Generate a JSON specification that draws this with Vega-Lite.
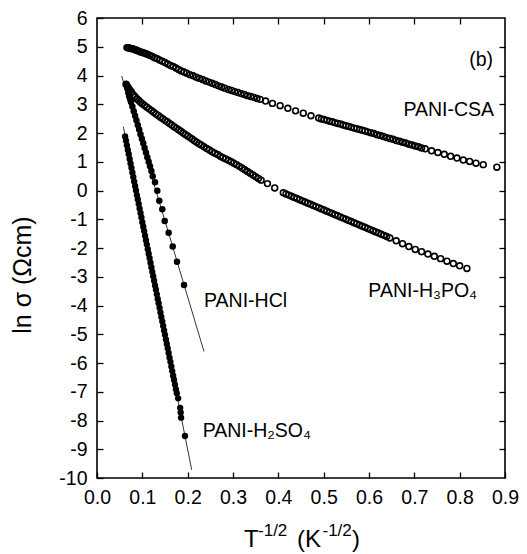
{
  "$schema": "https://vega.github.io/schema/vega-lite/v6.json",
  "width": 408,
  "height": 460,
  "autosize": {"type": "none"},
  "padding": {"left": 97, "top": 18, "right": 22, "bottom": 76},
  "background": "white",
  "config": {"view": {"stroke": "black", "strokeWidth": 1.6}},
  "datasets": {
    "fits": [
      {"s": "HCl", "x": 0.0545, "y": 3.98}, {"s": "HCl", "x": 0.236, "y": -5.6},
      {"s": "H2SO4", "x": 0.058, "y": 2.22}, {"s": "H2SO4", "x": 0.209, "y": -9.72}
    ],
    "csa": [
      {"x":0.066,"y":4.97},{"x":0.069,"y":4.965},{"x":0.072,"y":4.95},{"x":0.075,"y":4.94},{"x":0.078,"y":4.93},{"x":0.081,"y":4.91},{"x":0.084,"y":4.895},{"x":0.087,"y":4.88},{"x":0.090,"y":4.86},{"x":0.093,"y":4.84},{"x":0.096,"y":4.82},{"x":0.100,"y":4.80},{"x":0.104,"y":4.78},{"x":0.108,"y":4.76},{"x":0.112,"y":4.73},{"x":0.117,"y":4.70},{"x":0.122,"y":4.66},{"x":0.127,"y":4.62},{"x":0.132,"y":4.59},{"x":0.138,"y":4.54},{"x":0.144,"y":4.50},{"x":0.150,"y":4.45},{"x":0.156,"y":4.40},{"x":0.162,"y":4.35},{"x":0.168,"y":4.31},{"x":0.174,"y":4.26},{"x":0.180,"y":4.21},{"x":0.186,"y":4.16},{"x":0.192,"y":4.12},{"x":0.198,"y":4.08},{"x":0.205,"y":4.03},{"x":0.212,"y":3.99},{"x":0.219,"y":3.94},{"x":0.226,"y":3.90},{"x":0.233,"y":3.86},{"x":0.240,"y":3.81},{"x":0.247,"y":3.77},{"x":0.254,"y":3.73},{"x":0.261,"y":3.69},{"x":0.268,"y":3.64},{"x":0.275,"y":3.60},{"x":0.282,"y":3.56},{"x":0.290,"y":3.51},{"x":0.297,"y":3.48},{"x":0.304,"y":3.44},{"x":0.311,"y":3.41},{"x":0.318,"y":3.37},{"x":0.325,"y":3.34},{"x":0.332,"y":3.30},{"x":0.339,"y":3.27},{"x":0.346,"y":3.24},{"x":0.353,"y":3.20},{"x":0.360,"y":3.17},{"x":0.372,"y":3.11},{"x":0.387,"y":3.03},{"x":0.404,"y":2.95},{"x":0.421,"y":2.86},{"x":0.438,"y":2.77},{"x":0.455,"y":2.69},{"x":0.472,"y":2.60},{"x":0.489,"y":2.52},{"x":0.495,"y":2.49},{"x":0.501,"y":2.47},{"x":0.507,"y":2.44},{"x":0.513,"y":2.41},{"x":0.519,"y":2.39},{"x":0.525,"y":2.36},{"x":0.531,"y":2.33},{"x":0.537,"y":2.31},{"x":0.543,"y":2.28},{"x":0.549,"y":2.25},{"x":0.555,"y":2.23},{"x":0.561,"y":2.20},{"x":0.567,"y":2.17},{"x":0.573,"y":2.15},{"x":0.579,"y":2.12},{"x":0.585,"y":2.10},{"x":0.591,"y":2.07},{"x":0.597,"y":2.04},{"x":0.604,"y":2.01},{"x":0.611,"y":1.98},{"x":0.618,"y":1.94},{"x":0.625,"y":1.91},{"x":0.632,"y":1.88},{"x":0.639,"y":1.84},{"x":0.646,"y":1.81},{"x":0.653,"y":1.78},{"x":0.660,"y":1.74},{"x":0.667,"y":1.71},{"x":0.674,"y":1.68},{"x":0.681,"y":1.65},{"x":0.688,"y":1.61},{"x":0.695,"y":1.58},{"x":0.702,"y":1.55},{"x":0.709,"y":1.52},{"x":0.716,"y":1.48},{"x":0.724,"y":1.45},{"x":0.738,"y":1.38},{"x":0.752,"y":1.32},{"x":0.766,"y":1.26},{"x":0.780,"y":1.19},{"x":0.794,"y":1.13},{"x":0.808,"y":1.06},{"x":0.822,"y":1.01},{"x":0.836,"y":0.95},{"x":0.852,"y":0.90},{"x":0.882,"y":0.81}
    ],
    "h3": [
      {"x":0.064,"y":3.70},{"x":0.067,"y":3.62},{"x":0.070,"y":3.55},{"x":0.073,"y":3.48},{"x":0.076,"y":3.42},{"x":0.080,"y":3.33},{"x":0.084,"y":3.26},{"x":0.088,"y":3.19},{"x":0.092,"y":3.13},{"x":0.096,"y":3.07},{"x":0.100,"y":3.02},{"x":0.105,"y":2.96},{"x":0.110,"y":2.90},{"x":0.115,"y":2.84},{"x":0.120,"y":2.78},{"x":0.125,"y":2.72},{"x":0.130,"y":2.66},{"x":0.135,"y":2.61},{"x":0.140,"y":2.55},{"x":0.145,"y":2.50},{"x":0.150,"y":2.44},{"x":0.155,"y":2.39},{"x":0.160,"y":2.33},{"x":0.165,"y":2.28},{"x":0.170,"y":2.22},{"x":0.175,"y":2.17},{"x":0.180,"y":2.11},{"x":0.185,"y":2.06},{"x":0.190,"y":2.00},{"x":0.195,"y":1.95},{"x":0.200,"y":1.90},{"x":0.205,"y":1.84},{"x":0.210,"y":1.79},{"x":0.215,"y":1.73},{"x":0.220,"y":1.68},{"x":0.225,"y":1.63},{"x":0.230,"y":1.58},{"x":0.236,"y":1.52},{"x":0.242,"y":1.46},{"x":0.248,"y":1.41},{"x":0.254,"y":1.35},{"x":0.260,"y":1.30},{"x":0.266,"y":1.25},{"x":0.272,"y":1.19},{"x":0.278,"y":1.14},{"x":0.284,"y":1.10},{"x":0.290,"y":1.05},{"x":0.296,"y":1.00},{"x":0.302,"y":0.95},{"x":0.308,"y":0.90},{"x":0.314,"y":0.84},{"x":0.320,"y":0.78},{"x":0.326,"y":0.72},{"x":0.332,"y":0.66},{"x":0.338,"y":0.60},{"x":0.344,"y":0.54},{"x":0.350,"y":0.48},{"x":0.356,"y":0.42},{"x":0.362,"y":0.36},{"x":0.376,"y":0.24},{"x":0.392,"y":0.09},{"x":0.411,"y":-0.08},{"x":0.417,"y":-0.12},{"x":0.423,"y":-0.16},{"x":0.429,"y":-0.20},{"x":0.435,"y":-0.24},{"x":0.441,"y":-0.28},{"x":0.447,"y":-0.32},{"x":0.453,"y":-0.36},{"x":0.459,"y":-0.40},{"x":0.465,"y":-0.44},{"x":0.471,"y":-0.48},{"x":0.477,"y":-0.52},{"x":0.483,"y":-0.56},{"x":0.489,"y":-0.60},{"x":0.495,"y":-0.64},{"x":0.501,"y":-0.68},{"x":0.507,"y":-0.72},{"x":0.513,"y":-0.76},{"x":0.519,"y":-0.80},{"x":0.525,"y":-0.84},{"x":0.531,"y":-0.88},{"x":0.537,"y":-0.92},{"x":0.543,"y":-0.96},{"x":0.549,"y":-1.00},{"x":0.555,"y":-1.04},{"x":0.561,"y":-1.08},{"x":0.567,"y":-1.12},{"x":0.573,"y":-1.16},{"x":0.579,"y":-1.20},{"x":0.585,"y":-1.24},{"x":0.591,"y":-1.28},{"x":0.597,"y":-1.32},{"x":0.603,"y":-1.36},{"x":0.609,"y":-1.40},{"x":0.615,"y":-1.44},{"x":0.621,"y":-1.48},{"x":0.627,"y":-1.52},{"x":0.633,"y":-1.56},{"x":0.639,"y":-1.60},{"x":0.646,"y":-1.65},{"x":0.660,"y":-1.75},{"x":0.674,"y":-1.85},{"x":0.688,"y":-1.95},{"x":0.702,"y":-2.05},{"x":0.716,"y":-2.13},{"x":0.730,"y":-2.21},{"x":0.744,"y":-2.29},{"x":0.758,"y":-2.37},{"x":0.772,"y":-2.46},{"x":0.786,"y":-2.54},{"x":0.800,"y":-2.62},{"x":0.816,"y":-2.71}
    ],
    "hcl": [
      {"x":0.065,"y":3.70},{"x":0.067,"y":3.55},{"x":0.069,"y":3.40},{"x":0.071,"y":3.28},{"x":0.073,"y":3.18},{"x":0.075,"y":3.08},{"x":0.078,"y":2.92},{"x":0.081,"y":2.76},{"x":0.084,"y":2.60},{"x":0.087,"y":2.44},{"x":0.090,"y":2.28},{"x":0.093,"y":2.12},{"x":0.096,"y":1.96},{"x":0.099,"y":1.80},{"x":0.102,"y":1.64},{"x":0.105,"y":1.48},{"x":0.108,"y":1.32},{"x":0.111,"y":1.16},{"x":0.114,"y":1.00},{"x":0.117,"y":0.84},{"x":0.120,"y":0.68},{"x":0.1229,"y":0.50},{"x":0.128,"y":0.285},{"x":0.133,"y":-0.01},{"x":0.1374,"y":-0.355},{"x":0.144,"y":-0.654},{"x":0.1493,"y":-1.06},{"x":0.158,"y":-1.47},{"x":0.167,"y":-1.95},{"x":0.1765,"y":-2.48},{"x":0.192,"y":-3.29}
    ],
    "h2": [
      {"x":0.062,"y":1.88},{"x":0.064,"y":1.73},{"x":0.066,"y":1.57},{"x":0.068,"y":1.41},{"x":0.070,"y":1.26},{"x":0.072,"y":1.10},{"x":0.074,"y":0.94},{"x":0.076,"y":0.79},{"x":0.078,"y":0.63},{"x":0.080,"y":0.47},{"x":0.082,"y":0.31},{"x":0.084,"y":0.16},{"x":0.086,"y":0.00},{"x":0.088,"y":-0.16},{"x":0.090,"y":-0.31},{"x":0.092,"y":-0.47},{"x":0.094,"y":-0.63},{"x":0.096,"y":-0.78},{"x":0.098,"y":-0.94},{"x":0.100,"y":-1.10},{"x":0.102,"y":-1.26},{"x":0.104,"y":-1.41},{"x":0.106,"y":-1.57},{"x":0.108,"y":-1.73},{"x":0.110,"y":-1.88},{"x":0.112,"y":-2.04},{"x":0.114,"y":-2.20},{"x":0.116,"y":-2.35},{"x":0.118,"y":-2.51},{"x":0.120,"y":-2.67},{"x":0.122,"y":-2.83},{"x":0.124,"y":-2.98},{"x":0.126,"y":-3.14},{"x":0.128,"y":-3.30},{"x":0.130,"y":-3.45},{"x":0.132,"y":-3.61},{"x":0.134,"y":-3.77},{"x":0.136,"y":-3.92},{"x":0.138,"y":-4.08},{"x":0.140,"y":-4.24},{"x":0.142,"y":-4.40},{"x":0.144,"y":-4.55},{"x":0.146,"y":-4.71},{"x":0.148,"y":-4.87},{"x":0.150,"y":-5.02},{"x":0.152,"y":-5.18},{"x":0.154,"y":-5.34},{"x":0.156,"y":-5.49},{"x":0.158,"y":-5.65},{"x":0.160,"y":-5.81},{"x":0.162,"y":-5.96},{"x":0.164,"y":-6.12},{"x":0.166,"y":-6.28},{"x":0.168,"y":-6.44},{"x":0.170,"y":-6.59},{"x":0.172,"y":-6.75},{"x":0.174,"y":-6.91},{"x":0.176,"y":-7.05},{"x":0.179,"y":-7.23},{"x":0.1835,"y":-7.56},{"x":0.1846,"y":-7.72},{"x":0.1855,"y":-7.90},{"x":0.194,"y":-8.54}
    ],
    "annR": [
      {"t": "(b)", "x": 0.8735, "y": 4.33},
      {"t": "PANI-CSA", "x": 0.876, "y": 2.59}
    ],
    "annL": [
      {"t": "PANI-H₃PO₄", "x": 0.5985, "y": -3.69},
      {"t": "PANI-HCl", "x": 0.236, "y": -4.04},
      {"t": "PANI-H₂SO₄", "x": 0.233, "y": -8.56}
    ],
    "xtBig": [
      {"t": "T", "x": 0.3243, "y": -12.39},
      {"t": "(K", "x": 0.4412, "y": -12.39},
      {"t": ")", "x": 0.5625, "y": -12.39}
    ],
    "xtSmall": [
      {"t": "-1/2", "x": 0.3552, "y": -12.02},
      {"t": "-1/2", "x": 0.4974, "y": -12.02}
    ],
    "yt": [
      {"t": "ln  σ  (Ωcm)", "x": -0.163, "y": -2.94}
    ]
  },
  "encoding": {
    "x": {"field": "x", "type": "quantitative", "scale": {"domain": [0, 0.9], "nice": false, "zero": false}, "axis": null},
    "y": {"field": "y", "type": "quantitative", "scale": {"domain": [-10, 6], "nice": false, "zero": false}, "axis": null}
  },
  "resolve": {"axis": {"x": "independent", "y": "independent"}},
  "layer": [
    {
      "data": {"name": "fits"},
      "mark": {"type": "line", "color": "black", "strokeWidth": 0.8},
      "encoding": {
        "x": {"field": "x", "type": "quantitative", "scale": {"domain": [0, 0.9], "nice": false, "zero": false},
          "axis": {"orient": "bottom", "values": [0, 0.1, 0.2, 0.3, 0.4, 0.5, 0.6, 0.7, 0.8, 0.9], "format": ".1f", "title": null, "domain": false, "grid": false, "tickSize": -6, "tickWidth": 1.3, "tickColor": "black", "labelPadding": 16, "labelFontSize": 19.5, "labelFont": "Liberation Sans", "labelColor": "black", "labelFlush": false, "labelOverlap": false}},
        "y": {"field": "y", "type": "quantitative", "scale": {"domain": [-10, 6], "nice": false, "zero": false},
          "axis": {"orient": "left", "values": [-10, -9, -8, -7, -6, -5, -4, -3, -2, -1, 0, 1, 2, 3, 4, 5, 6], "title": null, "domain": false, "grid": false, "tickSize": -6, "tickWidth": 1.3, "tickColor": "black", "labelPadding": 16, "labelFontSize": 19.5, "labelFont": "Liberation Sans", "labelColor": "black", "labelFlush": false, "labelOverlap": false, "labelExpr": "replace(datum.label, '\u2212', '-')"}},
        "detail": {"field": "s", "type": "nominal"}
      }
    },
    {
      "data": {"name": "csa"},
      "mark": {"type": "point", "shape": "circle", "filled": false, "stroke": "black", "strokeWidth": 1.6, "size": 34, "opacity": 1}
    },
    {
      "data": {"name": "h3"},
      "mark": {"type": "point", "shape": "circle", "filled": false, "stroke": "black", "strokeWidth": 1.6, "size": 34, "opacity": 1}
    },
    {
      "data": {"name": "hcl"},
      "mark": {"type": "circle", "color": "black", "size": 42, "opacity": 1}
    },
    {
      "data": {"name": "h2"},
      "mark": {"type": "circle", "color": "black", "size": 40, "opacity": 1}
    },
    {
      "data": {"name": "annR"},
      "mark": {"type": "text", "align": "right", "baseline": "alphabetic", "font": "Liberation Sans", "fontSize": 19.5, "color": "black"},
      "encoding": {
        "x": {"field": "x", "type": "quantitative", "scale": {"domain": [0, 0.9], "nice": false, "zero": false},
          "axis": {"orient": "top", "values": [0.1, 0.2, 0.3, 0.4, 0.5, 0.6, 0.7, 0.8], "labels": false, "title": null, "domain": false, "grid": false, "tickSize": -6, "tickWidth": 1.3, "tickColor": "black"}},
        "y": {"field": "y", "type": "quantitative", "scale": {"domain": [-10, 6], "nice": false, "zero": false},
          "axis": {"orient": "right", "values": [-9, -8, -7, -6, -5, -4, -3, -2, -1, 0, 1, 2, 3, 4, 5], "labels": false, "title": null, "domain": false, "grid": false, "tickSize": -6, "tickWidth": 1.3, "tickColor": "black"}},
        "text": {"field": "t", "type": "nominal"}
      }
    },
    {
      "data": {"name": "annL"},
      "mark": {"type": "text", "align": "left", "baseline": "alphabetic", "font": "Liberation Sans", "fontSize": 19.5, "color": "black"},
      "encoding": {"text": {"field": "t", "type": "nominal"}}
    },
    {
      "data": {"name": "xtBig"},
      "mark": {"type": "text", "align": "left", "baseline": "alphabetic", "font": "Liberation Sans", "fontSize": 24, "color": "black"},
      "encoding": {"text": {"field": "t", "type": "nominal"}}
    },
    {
      "data": {"name": "xtSmall"},
      "mark": {"type": "text", "align": "left", "baseline": "alphabetic", "font": "Liberation Sans", "fontSize": 17, "color": "black"},
      "encoding": {"text": {"field": "t", "type": "nominal"}}
    },
    {
      "data": {"name": "yt"},
      "mark": {"type": "text", "align": "center", "baseline": "middle", "angle": 270, "font": "Liberation Sans", "fontSize": 25, "color": "black"},
      "encoding": {"text": {"field": "t", "type": "nominal"}}
    }
  ]
}
